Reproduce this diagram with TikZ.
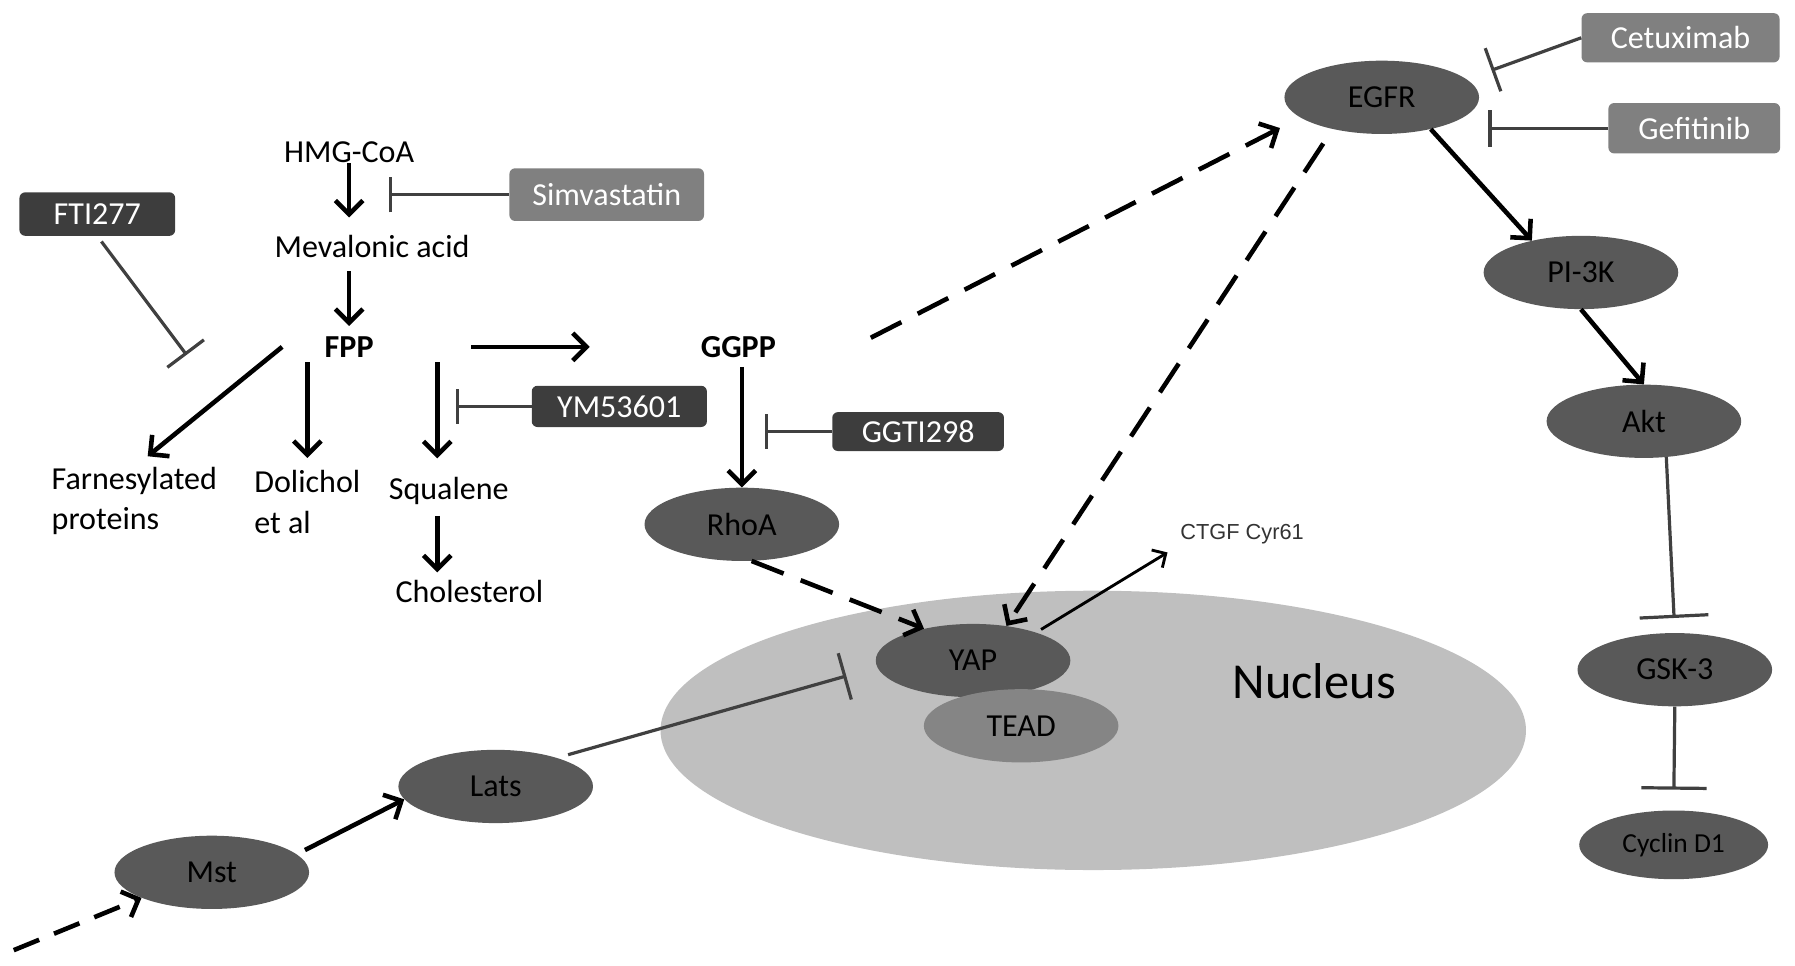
\documentclass[tikz,border=0pt]{standalone}
\usepackage{fontspec}
\setmainfont{Carlito}
\newfontfamily\arialfont{Liberation Sans}
\usetikzlibrary{arrows.meta,shapes.geometric}
\definecolor{protgray}{gray}{0.35}
\definecolor{darkbox}{gray}{0.24}
\definecolor{midbox}{gray}{0.5}
\definecolor{teadgray}{gray}{0.52}
\definecolor{nucgray}{gray}{0.75}
\definecolor{inhgray}{gray}{0.25}
\begin{document}
\begin{tikzpicture}[x=1pt,y=-1pt,
    txt/.style={inner sep=0pt,font=\fontsize{28}{35}\selectfont},
    prot/.style={ellipse,fill=protgray,minimum width=170pt,minimum height=64pt,
      inner sep=0pt,font=\fontsize{28}{34}\selectfont},
    darkdrug/.style={rounded corners=5pt,fill=darkbox,text=white,inner sep=0pt,
      font=\fontsize{28}{34}\selectfont},
    meddrug/.style={darkdrug,fill=midbox},
    arr/.style={line width=4pt,-{Straight Barb[length=12pt,width=24pt]}},
    dsh/.style={arr,dash pattern=on 30pt off 16pt},
    thin/.style={line width=2.5pt,-{Straight Barb[length=9pt,width=18pt]}},
    inh/.style={line width=2.8pt,draw=inhgray,-{Bar[width=#1]}}]
      \useasboundingbox (0,0) rectangle (1568,843.8);
      \draw
        (955,638) node[ellipse,fill=nucgray,minimum width=756pt,minimum height=244pt] (nuc){}
        (1148,595) node[font=\fontsize{44}{50}\selectfont] (nuclab){Nucleus};
      \draw
        (1207,85) node[prot] (egfr){EGFR}
        (1381,238) node[prot] (pi3k){PI-3K}
        (1436,368) node[prot] (akt){Akt}
        (1463,585) node[prot] (gsk){GSK-3}
        (1462,738) node[prot,minimum width=165pt,minimum height=60pt,
          font=\fontsize{24}{28}\selectfont] (cyc){Cyclin D1}
        (648,458) node[prot] (rhoa){RhoA}
        (850,577) node[prot] (yap){YAP}
        (892,634) node[prot,fill=teadgray] (tead){TEAD}
        (433,687) node[prot] (lats){Lats}
        (185,762) node[prot] (mst){Mst};
      \draw
        (305,133) node[txt] (hmg){HMG-CoA}
        (325,215) node[txt] (mev){Mevalonic acid}
        (305,303) node[txt,font=\fontsize{28}{35}\selectfont\bfseries] (fpp){FPP}
        (645,303) node[txt,font=\fontsize{28}{35}\selectfont\bfseries] (ggpp){GGPP}
        (45,408) node[txt,anchor=north west,align=left] (farn){Farnesylated\\proteins}
        (222,411) node[txt,anchor=north west,align=left] (dol){Dolichol\\et al}
        (392,436) node[txt,anchor=base] (sq){Squalene}
        (410,517) node[txt] (chol){Cholesterol}
        (1085,467) node[inner sep=0pt,text=black!80,font=\arialfont\fontsize{19}{22}\selectfont] (ctgf){CTGF Cyr61};
      \draw
        (85,187) node[darkdrug,minimum width=136pt,minimum height=38pt] (fti){FTI277}
        (530,170) node[meddrug,minimum width=170pt,minimum height=46pt] (sim){Simvastatin}
        (541,355) node[darkdrug,minimum width=153pt,minimum height=36pt] (ym){YM53601}
        (802,377) node[darkdrug,minimum width=150pt,minimum height=34pt] (ggti){GGTI298}
        (1468,33) node[meddrug,minimum width=173pt,minimum height=43pt] (cet){Cetuximab}
        (1480,112) node[meddrug,minimum width=150pt,minimum height=44pt] (gef){Gefitinib};
      \coordinate (simt) at (340,170);
      \coordinate (ftit) at (163,310);
      \coordinate (ymt) at (398,355);
      \coordinate (ggtit) at (668,377);
      \coordinate (src) at (12,830);
      \begin{scope}[arr]
        \draw[shorten >=15pt] (hmg.south) -- (hmg.south |- mev.north);
        \draw[shorten <=12pt,shorten >=9pt] (fpp.north |- mev.south) -- (fpp.north);
        \draw[shorten >=15pt] ([xshift=-37pt]fpp.west) -- (farn.north);
        \draw[shorten <=4pt,shorten >=11pt] (dol.north |- fpp.south) -- (dol.north);
        \draw[shorten <=4pt,shorten >=16pt] ([xshift=-10pt]sq.north |- fpp.south) -- ([xshift=-10pt]sq.north);
        \draw[shorten <=10pt,shorten >=7pt] ([xshift=-10pt]sq.south) -- ([xshift=-10pt]sq.south |- chol.north);
        \draw[shorten <=85pt,shorten >=97pt] (fpp.east) -- (ggpp.west);
        \draw[shorten <=8pt] (rhoa.north |- ggpp.south) -- (rhoa.north);
        \draw (egfr.327) -- (pi3k.147);
        \draw (pi3k.south) -- (akt.north);
        \draw[shorten <=8pt] (mst.12) -- (lats.188);
      \end{scope}
      \begin{scope}[dsh]
        \draw[shorten <=93pt,shorten >=20pt] ([yshift=-25pt]ggpp.south east) -- (egfr.194);
        \draw[shorten <=15pt] (egfr.213) -- (yap.46);
        \draw (rhoa.-75) -- (yap.147);
        \draw[dash pattern=on 24pt off 14pt] (src) -- (mst.200);
      \end{scope}
      \draw[thin,shorten <=5pt,shorten >=13pt] (yap.24) -- (ctgf.south west);
      \begin{scope}[line cap=butt]
        \draw[inh=31pt] (sim.west) -- (simt);
        \draw[inh=40pt,shorten <=6pt] (fti.south) -- (ftit);
        \draw[inh=30pt] (ym.west) -- (ymt);
        \draw[inh=30pt] (ggti.west) -- (ggtit);
        \draw[inh=40pt,shorten >=23pt] (cet.west) -- (egfr.12);
        \draw[inh=32pt,shorten >=8pt] (gef.west) -- (gef.west -| egfr.east);
        \draw[inh=60pt,shorten >=13pt] (akt.-58) -- (gsk.north);
        \draw[inh=57pt,shorten >=18pt] (gsk.south) -- (cyc.north);
        \draw[inh=42pt,shorten <=10pt,shorten >=28pt] (lats.25) -- (yap.184);
      \end{scope}
    \end{tikzpicture}
\end{document}
